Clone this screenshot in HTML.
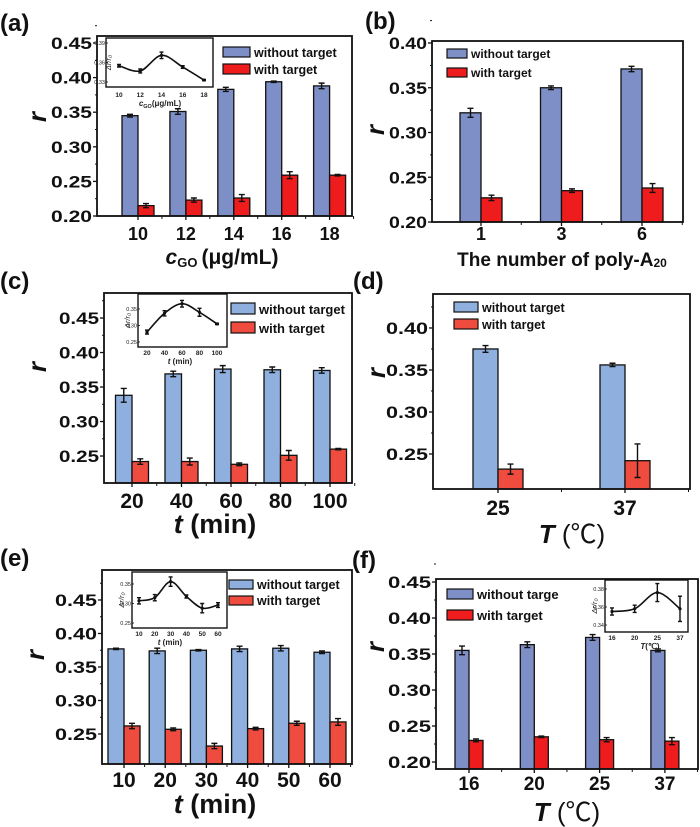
<!DOCTYPE html>
<html><head><meta charset="utf-8"><style>
html,body{margin:0;padding:0;background:#fff;}
svg{display:block;font-family:"Liberation Sans",sans-serif;}
</style></head><body>
<svg id="fig" width="700" height="827" viewBox="0 0 700 827" xmlns="http://www.w3.org/2000/svg"></svg>
<script>
// ---------- DATA ----------
const aCats=['10','12','14','16','18'];
const aBlue=[0.345,0.351,0.383,0.394,0.388];
const aBlueErr=[0.002,0.004,0.003,0.001,0.004];
const aRed=[0.215,0.223,0.226,0.259,0.259];
const aRedErr=[0.003,0.003,0.005,0.005,0.001];
const aYTicks=['0.20','0.25','0.30','0.35','0.40','0.45'];
const aInsetCats=['10','12','14','16','18'];
const aInsetVals=[0.355,0.347,0.371,0.353,0.333];
const aInsetErr=[0.002,0.003,0.005,0.002,0.001];
const aInsetTicks=['0.33','0.36','0.39'];

const bCats=['1','3','6'];
const bBlue=[0.322,0.350,0.371];
const bBlueErr=[0.005,0.002,0.003];
const bRed=[0.227,0.235,0.238];
const bRedErr=[0.003,0.002,0.005];
const bYTicks=['0.20','0.25','0.30','0.35','0.40'];

const cCats=['20','40','60','80','100'];
const cBlue=[0.338,0.369,0.376,0.375,0.374];
const cBlueErr=[0.010,0.004,0.005,0.004,0.004];
const cRed=[0.242,0.242,0.238,0.251,0.260];
const cRedErr=[0.004,0.005,0.002,0.007,0.001];
const cYTicks=['0.25','0.30','0.35','0.40','0.45'];
const cInsetCats=['20','40','60','80','100'];
const cInsetVals=[0.280,0.337,0.366,0.340,0.305];
const cInsetErr=[0.006,0.008,0.010,0.012,0.002];
const cInsetTicks=['0.25','0.30','0.35'];

const dCats=['25','37'];
const dBlue=[0.375,0.356];
const dBlueErr=[0.004,0.002];
const dRed=[0.232,0.242];
const dRedErr=[0.006,0.020];
const dYTicks=['0.25','0.30','0.35','0.40'];

const eCats=['10','20','30','40','50','60'];
const eBlue=[0.377,0.374,0.375,0.377,0.378,0.372];
const eBlueErr=[0.001,0.004,0.001,0.004,0.004,0.002];
const eRed=[0.262,0.257,0.232,0.258,0.266,0.268];
const eRedErr=[0.004,0.002,0.004,0.002,0.003,0.005];
const eYTicks=['0.25','0.30','0.35','0.40','0.45'];
const eInsetCats=['10','20','30','40','50','60'];
const eInsetVals=[0.307,0.315,0.356,0.318,0.288,0.296];
const eInsetErr=[0.008,0.008,0.012,0.004,0.012,0.006];
const eInsetTicks=['0.25','0.30','0.35'];

const fCats=['16','20','25','37'];
const fBlue=[0.355,0.363,0.373,0.355];
const fBlueErr=[0.006,0.004,0.004,0.002];
const fRed=[0.230,0.235,0.231,0.229];
const fRedErr=[0.002,0.001,0.003,0.005];
const fYTicks=['0.20','0.25','0.30','0.35','0.40','0.45'];
const fInsetCats=['16','20','25','37'];
const fInsetVals=[0.355,0.358,0.376,0.358];
const fInsetErr=[0.004,0.004,0.010,0.014];
const fInsetTicks=['0.34','0.36','0.38'];

// ---------- DRAWING ----------
const NS='http://www.w3.org/2000/svg';
const svg=document.getElementById('fig');
function mk(tag,attrs,parent,txt){
  const e=document.createElementNS(NS,tag);
  for(const k in attrs)e.setAttribute(k,attrs[k]);
  if(txt!==undefined)e.textContent=txt;
  (parent||svg).appendChild(e);return e;
}
function catmull(pts){
  let d='M'+pts[0][0]+','+pts[0][1];
  for(let i=0;i<pts.length-1;i++){
    const p0=pts[i-1]||pts[i],p1=pts[i],p2=pts[i+1],p3=pts[i+2]||p2;
    const c1=[p1[0]+(p2[0]-p0[0])/6,p1[1]+(p2[1]-p0[1])/6];
    const c2=[p2[0]-(p3[0]-p1[0])/6,p2[1]-(p3[1]-p1[1])/6];
    d+=' C'+c1[0]+','+c1[1]+' '+c2[0]+','+c2[1]+' '+p2[0]+','+p2[1];
  }
  return d;
}
function errBar(g,x,y1,y2,cap){
  const eb=mk('path',{d:`M${x},${y1}V${y2}M${x-cap},${y1}H${x+cap}M${x-cap},${y2}H${x+cap}`,stroke:'#111','stroke-width':1.4,fill:'none'},g);
  
  
}
function panel(P){
  const g=mk('g',{});
  
  
  const y=v=>P.fb-(v-P.ymin)*P.k;
  const cx=i=>P.c0+i*P.step;
  P.cats.forEach((c,i)=>{
    const yb=y(P.blue[i]);
    const rb=mk('rect',{x:cx(i)-P.bw,y:yb,width:P.bw,height:P.fb-yb,fill:P.cb,stroke:'#111','stroke-width':1.3},g);
    
    
    const yr=y(P.red[i]);
    const rr=mk('rect',{x:cx(i),y:yr,width:P.bw,height:P.fb-yr,fill:P.cr,stroke:'#111','stroke-width':1.3},g);
    
    
    errBar(g,cx(i)-P.bw/2,y(P.blue[i]+P.blueErr[i]),y(P.blue[i]-P.blueErr[i]),3);
    errBar(g,cx(i)+P.bw/2,y(P.red[i]+P.redErr[i]),y(P.red[i]-P.redErr[i]),3);
    const tl=mk('text',{x:cx(i)+(P.xlOff||0),y:P.xlY,'font-size':P.xlFs,'font-weight':'bold','text-anchor':'middle',fill:'#111'},g,c);
    
    
    mk('line',{x1:cx(i),x2:cx(i),y1:P.fb,y2:P.fb+4,stroke:'#111','stroke-width':1.3},g);
    mk('line',{x1:cx(i)+P.step/2,x2:cx(i)+P.step/2,y1:P.fb,y2:P.fb+3,stroke:'#111','stroke-width':1},g);
  });
  P.yticks.forEach(t=>{
    const v=parseFloat(t),yy=y(v);
    mk('line',{x1:P.fl-4,x2:P.fl,y1:yy,y2:yy,stroke:'#111','stroke-width':1.3},g);
    mk('line',{x1:P.fl-2,x2:P.fl,y1:y(v+0.025),y2:y(v+0.025),stroke:'#111','stroke-width':1},g);
    const tl=mk('text',{x:P.fl-5,y:yy+6,'font-size':17,'font-weight':'bold','text-anchor':'end',textLength:P.ytw,lengthAdjust:'spacingAndGlyphs',fill:'#111'},g,t);
    
    
  });
  const fr=mk('rect',{x:P.fl,y:P.ft,width:P.fr-P.fl,height:P.fb-P.ft,fill:'none',stroke:'#111','stroke-width':1.8},g);
  
  
  const L=P.leg;
  [['without target',P.cb,L.y1],['with target',P.cr,L.y2]].forEach(([lab,col,ly],j)=>{
    const le=mk('g',{},g);
    
    
    mk('rect',{x:L.x,y:ly,width:L.w,height:L.h,fill:col,stroke:'#111','stroke-width':1.2},le);
    mk('text',{x:L.x+L.w+4,y:ly+L.h,'font-size':L.fs,'font-weight':'bold',fill:'#111'},le,j==0&&P.legText?P.legText:lab);
  });
  const yt=mk('text',{x:P.ytx,y:P.yty,'font-size':26,'font-weight':'bold','font-style':'italic','text-anchor':'middle',fill:'#111',transform:`rotate(-90 ${P.ytx} ${P.yty})`},g,'r');
  
  
  const pl=mk('text',{x:P.plx,y:P.ply,'font-size':24,'font-weight':'bold',fill:'#111'},g,'('+P.id+')');
  
  
  const xt=mk('text',{x:P.xtx,y:P.xty,'font-size':P.xtFs,'font-weight':'bold','text-anchor':'middle',fill:'#111'},g);
  
  
  xt.innerHTML=P.xtHtml;
  if(P.inset){
    const I=P.inset;
    const ig=mk('g',{},g);
    
    
    mk('rect',{x:I.l,y:I.t,width:I.r-I.l,height:I.b-I.t,fill:'#fff',stroke:'#111','stroke-width':1.4},ig);
    const iy=v=>I.y0+(I.v0-v)*I.k;
    const n=I.cats.length;
    const ix=i=>I.x0+i*(I.x1-I.x0)/(n-1);
    const pts=I.vals.map((v,i)=>[ix(i),iy(v)]);
    const ln=mk('path',{d:catmull(pts),fill:'none',stroke:'#111','stroke-width':1.6},ig);
    
    
    I.vals.forEach((v,i)=>{
      errBar(ig,ix(i),iy(v+I.err[i]),iy(v-I.err[i]),2);
      mk('circle',{cx:ix(i),cy:iy(v),r:1.6,fill:'#111'},ig);
      mk('text',{x:ix(i),y:I.xlY,'font-size':6.5,'font-weight':'bold','text-anchor':'middle',fill:'#222'},ig,I.cats[i]);
    });
    I.ticks.forEach(t=>{
      mk('text',{x:I.l-1,y:iy(parseFloat(t))+2,'font-size':5.5,'text-anchor':'end',fill:'#222'},ig,t);
      mk('line',{x1:I.l,x2:I.l+2,y1:iy(parseFloat(t)),y2:iy(parseFloat(t)),stroke:'#111','stroke-width':0.8},ig);
    });
    const itt=mk('text',{x:I.xtX,y:I.xtY,'font-size':8,'font-weight':'bold','text-anchor':'middle',fill:'#222'},ig);
    itt.innerHTML=I.xt;
    const ity=I.ytX, ityy=(I.t+I.b)/2;
    mk('text',{x:ity,y:ityy,'font-size':7.5,'font-style':'italic','text-anchor':'middle',fill:'#222',transform:`rotate(-90 ${ity} ${ityy})`},ig,'Δr/r₀');
  }
}
const B1='#7d8fc6',R1='#ee1c1c',B2='#8fb0de',R2='#ef4b3e';
const TC='<tspan font-style="italic">T</tspan><tspan font-weight="normal" font-family="Liberation Sans, Noto Sans CJK SC, sans-serif"> (℃)</tspan>';
panel({id:'a',cats:aCats,blue:aBlue,blueErr:aBlueErr,red:aRed,redErr:aRedErr,yticks:aYTicks,
  fl:97,fr:352,ft:36,fb:216,ymin:0.2,k:692,c0:138,step:47.9,bw:16,cb:B1,cr:R1,ytw:41,
  xlY:240,xlFs:18,ytx:46,yty:117,plx:0,ply:31,xtx:222,xty:264,xtFs:21,
  xtHtml:'<tspan font-style="italic">c</tspan><tspan font-size="13" dy="3">GO</tspan><tspan dy="-3" dx="4">(μg/mL)</tspan>',
  leg:{x:223,y1:47,y2:64,w:27,h:10,fs:12.5},
  inset:{cats:aInsetCats,vals:aInsetVals,err:aInsetErr,ticks:aInsetTicks,l:106,r:213,t:38,b:87,x0:119,x1:204,y0:43,v0:0.39,k:650,xlY:97,xtX:160,xtY:106,ytX:111,
    xt:'<tspan font-style="italic">c</tspan><tspan font-size="5.5" dy="2">GO</tspan><tspan dy="-2">(μg/mL)</tspan>'}});
panel({id:'b',cats:bCats,blue:bBlue,blueErr:bBlueErr,red:bRed,redErr:bRedErr,yticks:bYTicks,
  fl:432,fr:683,ft:41,fb:222,ymin:0.2,k:895,c0:481,step:80.5,bw:21,cb:B1,cr:R1,ytw:38,
  xlY:240,xlFs:18,ytx:384,yty:130,plx:365,ply:29,xtx:562,xty:266,xtFs:19,
  xtHtml:'The number of poly-A<tspan font-size="12" dy="1">20</tspan>',
  leg:{x:447,y1:49,y2:68,w:20,h:9,fs:12}});
panel({id:'c',cats:cCats,blue:cBlue,blueErr:cBlueErr,red:cRed,redErr:cRedErr,yticks:cYTicks,
  fl:104,fr:352,ft:293,fb:483,ymin:0.2109,k:690,c0:132,step:49.5,bw:16.5,cb:B2,cr:R2,ytw:40,
  xlY:508,xlFs:21,ytx:46,yty:367,plx:0,ply:289,xtx:215,xty:533,xtFs:27,
  xtHtml:'<tspan font-style="italic">t</tspan> (min)',
  leg:{x:231,y1:303,y2:322,w:24,h:11,fs:13},
  inset:{cats:cInsetCats,vals:cInsetVals,err:cInsetErr,ticks:cInsetTicks,l:138,r:227,t:294,b:347,x0:147,x1:217,y0:309,v0:0.35,k:330,xlY:355,xtX:180,xtY:364,ytX:130,
    xt:'<tspan font-style="italic">t</tspan> (min)'}});
panel({id:'d',cats:dCats,blue:dBlue,blueErr:dBlueErr,red:dRed,redErr:dRedErr,yticks:dYTicks,
  fl:433,fr:690,ft:294,fb:489,ymin:0.2083,k:840,c0:498,step:127,bw:25,cb:B2,cr:R2,ytw:42,
  xlY:515,xlFs:21,ytx:385,yty:373,plx:353,ply:289,xtx:572,xty:543,xtFs:26,
  xtHtml:TC,
  leg:{x:454,y1:302,y2:319,w:24,h:10,fs:12.5}});
panel({id:'e',cats:eCats,blue:eBlue,blueErr:eBlueErr,red:eRed,redErr:eRedErr,yticks:eYTicks,
  fl:102,fr:352,ft:570,fb:764,ymin:0.2052,k:670,c0:124,step:41.2,bw:16,cb:B2,cr:R2,ytw:42,
  xlY:787,xlFs:21,ytx:44,yty:655,plx:0,ply:566,xtx:215,xty:813,xtFs:27,
  xtHtml:'<tspan font-style="italic">t</tspan> (min)',
  leg:{x:229,y1:580,y2:596,w:24,h:9,fs:12.5},
  inset:{cats:eInsetCats,vals:eInsetVals,err:eInsetErr,ticks:eInsetTicks,l:132,r:227,t:572,b:628,x0:139,x1:218,y0:584,v0:0.35,k:390,xlY:636,xtX:170,xtY:645,ytX:124,
    xt:'<tspan font-style="italic">t</tspan> (min)'}});
panel({id:'f',cats:fCats,blue:fBlue,blueErr:fBlueErr,red:fRed,redErr:fRedErr,yticks:fYTicks,
  fl:436,fr:698,ft:579,fb:769,ymin:0.1903,k:720,c0:469,step:65.3,bw:14,cb:B1,cr:R1,ytw:43,
  xlY:790,xlFs:19,ytx:384,yty:647,plx:352,ply:568,xtx:567,xty:821,xtFs:26,
  xtHtml:TC,legText:'without targe',
  leg:{x:447,y1:589,y2:610,w:26,h:10,fs:13},
  inset:{cats:fInsetCats,vals:fInsetVals,err:fInsetErr,ticks:fInsetTicks,l:605,r:688,t:580,b:632,x0:612,x1:680,y0:589,v0:0.38,k:900,xlY:640,xtX:650,xtY:649,ytX:597,
    xt:'<tspan font-style="italic">T</tspan>(℃)'}});
</script>
</body></html>
